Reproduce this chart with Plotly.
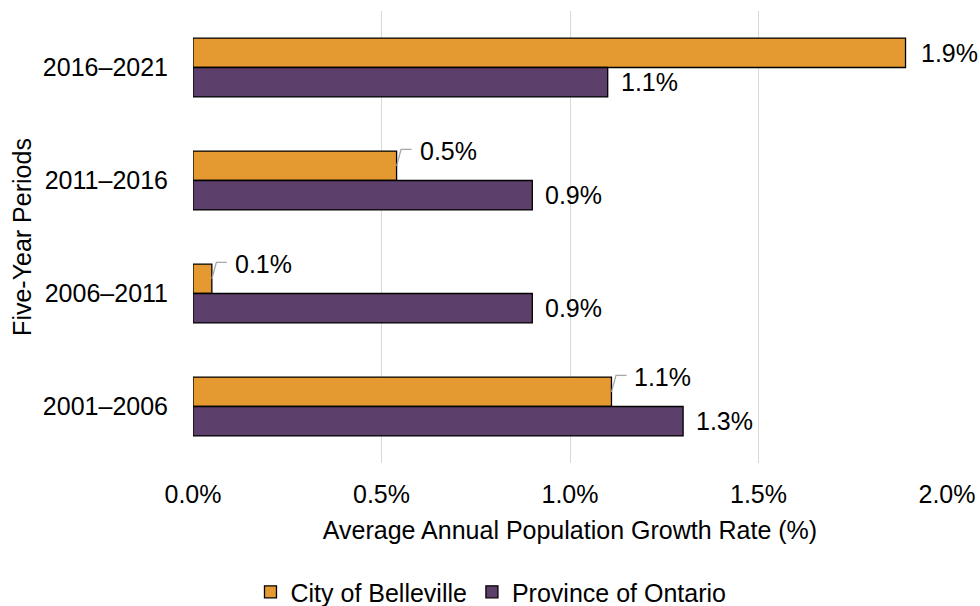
import plotly.graph_objects as go

periods = ["2016–2021", "2011–2016", "2006–2011", "2001–2006"]
belleville = [1.89, 0.54, 0.05, 1.11]
ontario = [1.10, 0.90, 0.90, 1.30]
series_names = ["City of Belleville", "Province of Ontario"]
leader_labels = ["2011–2016", "2006–2011", "2001–2006"]  # Belleville labels drawn with leader lines

ORANGE = "#E49A30"
PURPLE = "#5D3F6B"
FONT = "Liberation Sans, Arial, sans-serif"
FS = 25

W, H = 980, 606
M = dict(l=193, r=33, t=11, b=143, autoexpand=False)
BARGAP = 0.48
plot_h = H - M["t"] - M["b"]
cat_px = plot_h / len(periods)
bar_off_px = (1 - BARGAP) / 4 * cat_px  # pixel offset of each bar center from category center

fig = go.Figure()
fig.add_trace(go.Bar(y=periods, x=belleville, name=series_names[0], orientation="h",
                     marker=dict(color=ORANGE, line=dict(color="black", width=1.3))))
fig.add_trace(go.Bar(y=periods, x=ontario, name=series_names[1], orientation="h",
                     marker=dict(color=PURPLE, line=dict(color="black", width=1.3))))

ann = []
shapes = []
for p, v in zip(periods, belleville):
    txt = f"{v:.1f}%"
    if p in leader_labels:
        shapes.append(dict(type="path", xref="x", yref="y", xsizemode="pixel", ysizemode="pixel",
                           xanchor=v, yanchor=p,
                           path=f"M0,{bar_off_px:.1f} L4.5,{bar_off_px+16.5:.1f} L15,{bar_off_px+16.5:.1f}",
                           line=dict(color="#A6A6A6", width=1.3)))
        ann.append(dict(x=v, y=p, text=txt, showarrow=False, xanchor="left", yanchor="middle",
                        xshift=21, yshift=bar_off_px + 15))
    else:
        ann.append(dict(x=v, y=p, text=txt, showarrow=False, xanchor="left", yanchor="middle",
                        xshift=13, yshift=bar_off_px))
for p, v in zip(periods, ontario):
    ann.append(dict(x=v, y=p, text=f"{v:.1f}%", showarrow=False, xanchor="left", yanchor="middle",
                    xshift=11, yshift=-bar_off_px))

fig.update_layout(
    width=W, height=H, margin=M,
    paper_bgcolor="white", plot_bgcolor="white",
    font=dict(family=FONT, size=FS, color="black"),
    barmode="group", bargap=BARGAP, bargroupgap=0,
    annotations=ann, shapes=shapes,
    showlegend=True,
    legend=dict(orientation="h", xref="container", yref="container", x=0.501, y=0.023,
                xanchor="center", yanchor="middle", font=dict(size=FS), itemwidth=30),
    xaxis=dict(range=[0, 2.0], dtick=0.5, tickformat=".1f", ticksuffix="%",
               showgrid=True, gridcolor="#D9D9D9", gridwidth=1.3, automargin=False,
               zeroline=False, showline=False, ticks="", ticklabelstandoff=14,
               title=dict(text="Average Annual Population Growth Rate (%)", standoff=14,
                          font=dict(size=FS))),
    yaxis=dict(autorange="reversed", showgrid=False, zeroline=False, showline=False, ticks="",
               ticklabelstandoff=24, automargin=False,
               title=dict(text="Five-Year Periods", standoff=4, font=dict(size=FS))),
)

fig.write_html("out.html", config={"displayModeBar": False},
               post_script="document.body.style.margin='0';")
